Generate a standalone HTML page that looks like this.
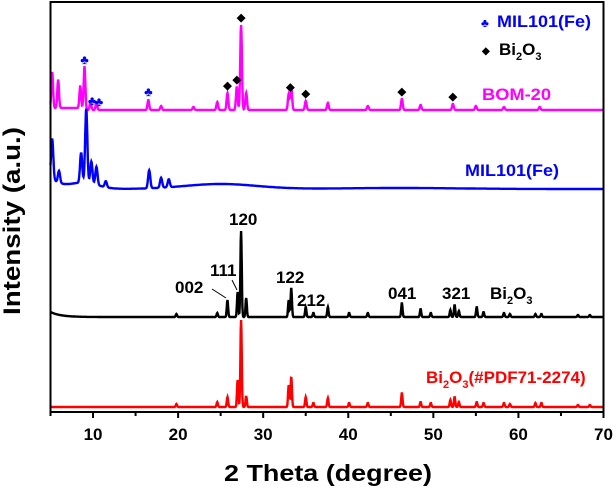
<!DOCTYPE html>
<html><head><meta charset="utf-8"><style>
body{margin:0;background:#fff}
svg{display:block}
text{font-family:"Liberation Sans",Arial,sans-serif;font-weight:bold}
</style></head><body>
<svg id="chart" width="616" height="490">
<g id="series"></g>
<rect x="50.5" y="2" width="553" height="410" fill="none" stroke="#000" stroke-width="2"/>
<g id="xticks"></g>
<text x="328" y="481" font-size="23" text-anchor="middle" textLength="208" lengthAdjust="spacingAndGlyphs">2 Theta (degree)</text>
<text transform="translate(20,221) rotate(-90)" font-size="24" text-anchor="middle" textLength="188" lengthAdjust="spacingAndGlyphs">Intensity (a.u.)</text>
<g>
<text x="481" y="27" font-size="12" fill="#0000ff">♣</text>
<text x="497" y="27" font-size="17" fill="#0000ff" textLength="94" lengthAdjust="spacingAndGlyphs">MIL101(Fe)</text>
<text x="482" y="54" font-size="10" fill="#000">◆</text>
<text x="499" y="55" font-size="17" fill="#000">Bi<tspan dy="5" font-size="11">2</tspan><tspan dy="-5">O</tspan><tspan dy="5" font-size="11">3</tspan></text>
</g>
<text x="482" y="100" font-size="17" fill="#ff00ff" textLength="69" lengthAdjust="spacingAndGlyphs">BOM-20</text>
<text x="465" y="176" font-size="17" fill="#0000ff" textLength="94" lengthAdjust="spacingAndGlyphs">MIL101(Fe)</text>
<text x="426" y="383" font-size="17" fill="#ff0000">Bi<tspan dy="5" font-size="11">2</tspan><tspan dy="-5">O</tspan><tspan dy="5" font-size="11">3</tspan><tspan dy="-5">(#PDF71-2274)</tspan></text>
<g font-size="17" fill="#000">
<text x="229" y="225">120</text>
<text x="210" y="276">111</text>
<text x="175" y="293">002</text>
<text x="276" y="283">122</text>
<text x="297" y="306">212</text>
<text x="388" y="299">041</text>
<text x="442" y="299">321</text>
<text x="490" y="299">Bi<tspan dy="5" font-size="11">2</tspan><tspan dy="-5">O</tspan><tspan dy="5" font-size="11">3</tspan></text>
<line x1="212" y1="289" x2="226" y2="298" stroke="#000" stroke-width="1"/>
<line x1="232" y1="280" x2="237" y2="290" stroke="#000" stroke-width="1"/>
</g>
<g id="markers"></g>
</svg>
<script>
const xTicks=[10,20,30,40,50,60,70];
const bomPos=[5.2,5.9,8.5,9.0,9.7,10.4,16.5,18,21.8,24.6,25.8,26.9,27.4,28.0,33.0,33.3,35.0,37.6,42.3,46.3,48.5,52.3,55.0,58.3,62.5];
const bomH=[36,28,22,42,8,7,10,4,3,8,17,23,85,17,16,22,9,7,4,11,5,6,4,3,3];
const milPos=[5.2,6.0,8.6,9.2,9.8,10.4,11.5,16.6,18.0,18.9];
const milH=[40,12,30,74,22,18,6,18,10,8];
const biPos=[19.8,24.6,25.8,27.0,27.4,28.0,33.0,33.3,35.0,35.9,37.6,40.1,42.3,46.3,48.5,49.7,52.0,52.5,53.0,55.1,55.9,58.3,59.0,62.0,62.7,67.0,68.4];
const biH=[3,4,17,25,86,19,17,29,10,4,10,4,4,14,8,4,7,12,6,10,5,4,3,3,3,2,2];
const pdfH=[3,5,10,27,87,11,22,30,10,4,9,4,4,14,5,4,7,10,5,5,4,4,3,4,4,2,2];
const bomMarkClub=[9.0,9.9,10.7,16.5];
const bomMarkDia=[25.8,26.9,27.4,33.2,35.0,46.3,52.3];
const X0=5,X1=70,PX0=50.5,PX1=603.5;
function sx(v){return PX0+(v-X0)*(PX1-PX0)/(X1-X0);}
const NS="http://www.w3.org/2000/svg";
const sg=document.getElementById('series');
function profile(pos,h,base,w,bg){
 let d="";
 for(let t=5;t<=70.001;t+=0.04){
  let y=0;
  for(let i=0;i<pos.length;i++){y+=h[i]*Math.exp(-Math.pow((t-pos[i])/w,2));}
  if(bg)y+=bg(t);
  d+=(d?"L":"M")+sx(t).toFixed(1)+","+(base-y).toFixed(1);
 }
 return d;
}
function addPath(d,col,name){
 const p=document.createElementNS(NS,'path');
 p.setAttribute('d',d);p.setAttribute('fill','none');p.setAttribute('stroke',col);p.setAttribute('stroke-width','2.4');
 
 
 sg.appendChild(p);
}
addPath(profile(bomPos,bomH,111,0.14,t=>t<9?3:1),'#ff00ff','series-bom20');
addPath(profile(milPos,milH,191,0.18,t=>2+6*Math.exp(-(t-9)*(t-9)/5)+12*Math.exp(-(t-5)/1.2)+5*Math.exp(-Math.pow((t-25)/6,2))+1*Math.exp(-Math.pow((t-46)/10,2))),'#0000ff','series-mil101');
addPath(profile(biPos,biH,317,0.11,t=>5*Math.exp(-(t-5)/1.2)),'#000','series-bi2o3');
addPath(profile(biPos,pdfH,407,0.11),'#ff0000','series-pdf');
const xt=document.getElementById('xticks');
for(let v=5;v<=70;v+=5){
 const l=document.createElementNS(NS,'line');
 const big=v%10===0;
 l.setAttribute('x1',sx(v));l.setAttribute('x2',sx(v));l.setAttribute('y1',412);l.setAttribute('y2',big?418:416);
 l.setAttribute('stroke','#000');l.setAttribute('stroke-width','2');
 
 
 xt.appendChild(l);
}
xTicks.forEach(v=>{
 const t=document.createElementNS(NS,'text');
 t.setAttribute('x',sx(v));t.setAttribute('y',440);t.setAttribute('font-size','17');t.setAttribute('text-anchor','middle');
 t.textContent=v;
 
 
 xt.appendChild(t);
});
const mg=document.getElementById('markers');
function peakTop(t){let y=0;for(let i=0;i<bomPos.length;i++){y+=bomH[i]*Math.exp(-Math.pow((t-bomPos[i])/0.14,2));}return 111-y-(t<9?3:1);}
bomMarkClub.forEach(v=>{
 const t=document.createElementNS(NS,'text');
 t.setAttribute('x',sx(v));t.setAttribute('y',peakTop(v)-4);t.setAttribute('font-size','13');t.setAttribute('text-anchor','middle');t.setAttribute('fill','#0000ff');
 t.textContent='♣';
 
 
 mg.appendChild(t);
});
bomMarkDia.forEach(v=>{
 const t=document.createElementNS(NS,'text');
 t.setAttribute('x',sx(v));t.setAttribute('y',peakTop(v)-4);t.setAttribute('font-size','11');t.setAttribute('text-anchor','middle');t.setAttribute('fill','#000');
 t.textContent='◆';
 
 
 mg.appendChild(t);
});
</script>
</body></html>
